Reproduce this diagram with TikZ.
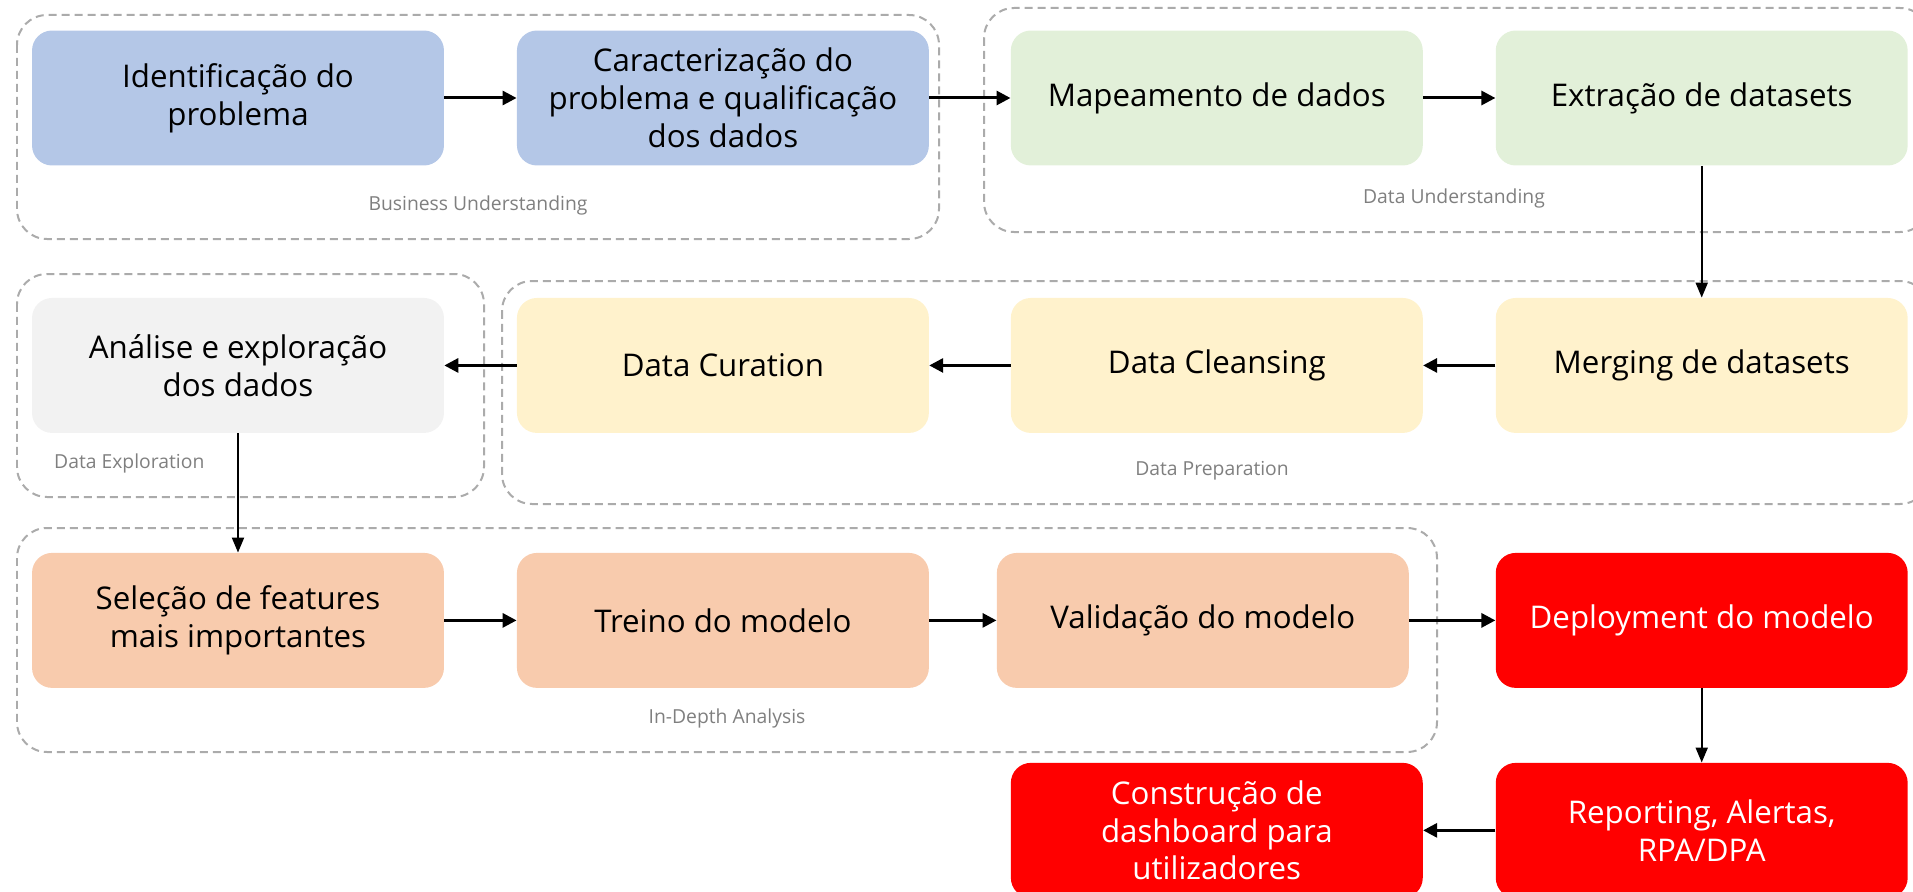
\documentclass[tikz,border=0pt]{standalone}
\usepackage{fontspec}
\setmainfont{Open Sans}
\usepackage{tikz}
\usetikzlibrary{positioning,arrows.meta}

\definecolor{bizblue}{HTML}{B4C7E7}
\definecolor{datagreen}{HTML}{E2F0D9}
\definecolor{explgray}{HTML}{F2F2F2}
\definecolor{prepyellow}{HTML}{FFF2CC}
\definecolor{anlsalmon}{HTML}{F8CBAD}
\definecolor{deployred}{HTML}{FF0000}
\definecolor{phasegray}{HTML}{ABABAB}
\definecolor{labelgray}{HTML}{7F7F7F}

\begin{document}
\begin{tikzpicture}[x=0.02cm,y=-0.02cm,on grid,
  stage/.style={rectangle,rounded corners=0.4cm,minimum width=8.24cm,
    minimum height=2.7cm,inner sep=0pt,align=center,
    font=\fontsize{17.8}{21.5}\selectfont},
  bizstage/.style={stage,fill=bizblue},
  datastage/.style={stage,fill=datagreen},
  explstage/.style={stage,fill=explgray},
  prepstage/.style={stage,fill=prepyellow},
  anlstage/.style={stage,fill=anlsalmon},
  deploystage/.style={stage,fill=deployred,text=white},
  phase/.style={draw=phasegray,line width=0.04cm,rounded corners=0.6cm,
    dash pattern=on 0.16cm off 0.1cm},
  phaselabel/.style={text=labelgray,font=\fontsize{11}{13}\selectfont},
  flow/.style={-{Triangle[length=0.28cm,width=0.28cm]},line width=0.06cm},
  thinflow/.style={-{Triangle[length=0.3cm,width=0.24cm]},line width=0.04cm}]
  \useasboundingbox (0,0) rectangle (1913,892);
  % phases
  \draw[phase] (17,15) rectangle (939,239);
  \draw[phase] (984,8) rectangle (1930,232);
  \draw[phase] (17,274) rectangle (484,497);
  \draw[phase] (502,281) rectangle (1930,504);
  \draw[phase] (17,528) rectangle (1437,752);
  \node[phaselabel] (bulabel) at (478,205) {Business Understanding};
  \node[phaselabel] (dulabel) at (1454,198) {Data Understanding};
  \node[phaselabel,anchor=west] (delabel) at (48,463) {Data Exploration};
  \node[phaselabel] (dplabel) at (1212,471) {Data Preparation};
  \node[phaselabel] (ialabel) at (727,718) {In-Depth Analysis};
  % stages
  \node[bizstage] (ident) at (238,98) {Identificação do\\problema};
  \node[bizstage] (caract) [right=9.7cm of ident] {Caracterização do\\problema e qualificação\\dos dados};
  \node[datastage] (mapeam) [right=9.88cm of caract] {Mapeamento de dados};
  \node[datastage] (extr) [right=9.7cm of mapeam] {Extração de datasets};
  \node[prepstage] (merging) [below=5.35cm of extr] {Merging de datasets};
  \node[prepstage] (cleansing) [left=9.7cm of merging] {Data Cleansing};
  \node[prepstage] (curation) [left=9.88cm of cleansing] {Data Curation};
  \node[explstage] (analise) [left=9.7cm of curation] {Análise e exploração\\dos dados};
  \node[anlstage] (selecao) [below=5.1cm of analise] {Seleção de features\\mais importantes};
  \node[anlstage] (treino) [right=9.7cm of selecao] {Treino do modelo};
  \node[anlstage] (valid) [right=9.6cm of treino] {Validação do modelo};
  \node[deploystage] (deploy) [right=9.98cm of valid] {Deployment do modelo};
  \node[deploystage] (report) [below=4.2cm of deploy] {Reporting, Alertas,\\RPA/DPA};
  \node[deploystage] (constr) [left=9.7cm of report] {Construção de\\dashboard para\\utilizadores};
  % connectors
  \draw[flow] (ident) -- (caract);
  \draw[flow] (caract) -- (mapeam);
  \draw[flow] (mapeam) -- (extr);
  \draw[thinflow] (extr) -- (merging);
  \draw[flow] (merging) -- (cleansing);
  \draw[flow] (cleansing) -- (curation);
  \draw[flow] (curation) -- (analise);
  \draw[thinflow] (analise) -- (selecao);
  \draw[flow] (selecao) -- (treino);
  \draw[flow] (treino) -- (valid);
  \draw[flow] (valid) -- (deploy);
  \draw[thinflow] (deploy) -- (report);
  \draw[flow] (report) -- (constr);
\end{tikzpicture}
\end{document}
